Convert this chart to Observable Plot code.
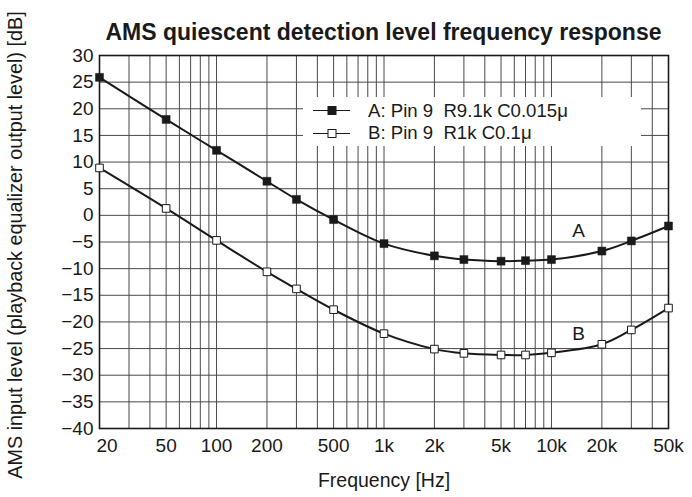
<!DOCTYPE html>
<html><head><meta charset="utf-8">
<script src="https://cdn.jsdelivr.net/npm/d3@7"></script>
<script src="https://cdn.jsdelivr.net/npm/@observablehq/plot@0.6"></script>
<style>
body{margin:0;background:#fff;}
#wrap{position:relative;width:692px;height:497px;font-family:"Liberation Sans",Arial,sans-serif;color:#1a1a1a;}
#title{position:absolute;left:99px;width:569px;top:21px;text-align:center;font-weight:bold;font-size:23px;line-height:23px;white-space:nowrap;}
#legend{position:absolute;left:303px;top:97px;width:338px;height:49px;background:#fff;}
.row{position:absolute;left:0;height:25px;display:flex;align-items:center;font-size:18.6px;white-space:pre;}
.row svg{display:block;}
</style>
</head><body>
<div id="wrap">
  <div id="chart"></div>
  <div id="title"></div>
  <div id="legend"></div>
</div>
<script>
// ---- data ----
const freqs = [20, 50, 100, 200, 300, 500, 1000, 2000, 3000, 5000, 7000, 10000, 20000, 30000, 50000];
const seriesA = [25.9, 18.0, 12.2, 6.4, 3.0, -0.8, -5.3, -7.6, -8.3, -8.6, -8.5, -8.3, -6.7, -4.8, -2.0];
const seriesB = [8.9, 1.3, -4.7, -10.6, -13.8, -17.7, -22.2, -25.1, -25.9, -26.2, -26.2, -25.8, -24.2, -21.5, -17.4];
const seriesNames = ["A", "B"];
const legendLabels = ["A: Pin 9\u00a0\u00a0R9.1k C0.015\u03bc", "B: Pin 9\u00a0\u00a0R1k C0.1\u03bc"];
const xTicks = [20, 50, 100, 200, 500, 1000, 2000, 5000, 10000, 20000, 50000];
const xTickLabels = ["20", "50", "100", "200", "500", "1k", "2k", "5k", "10k", "20k", "50k"];
const xGrid = [20,30,40,50,60,70,80,90,100,200,300,400,500,600,700,800,900,1000,2000,3000,4000,5000,6000,7000,8000,9000,10000,20000,30000,40000,50000];
const yTicks = [-40, -35, -30, -25, -20, -15, -10, -5, 0, 5, 10, 15, 20, 25, 30];
const curveLabelText = ["A", "B"];
const curveLabelFreq = [14500, 14500];
const curveLabelLevel = [-2.9, -22.3];
const titleText = "AMS quiescent detection level frequency response";
const xLabel = "Frequency [Hz]";
const yLabel = "AMS input level (playback equalizer output level) [dB]";

// ---- build ----
const rows = [];
freqs.forEach((f, i) => {
  rows.push({s: "A", f, v: seriesA[i]});
  rows.push({s: "B", f, v: seriesB[i]});
});
const rowsA = rows.filter(d => d.s === "A");
const rowsB = rows.filter(d => d.s === "B");
const curveLabels = curveLabelText.map((t, i) => ({t, f: curveLabelFreq[i], v: curveLabelLevel[i]}));
const xTickRows = xTicks.map((t, i) => ({t, label: xTickLabels[i]}));
const ink = "#1a1a1a";

const chart = Plot.plot({
  width: 692,
  height: 497,
  marginTop: 55,
  marginBottom: 69,
  marginLeft: 99,
  marginRight: 24,
  style: {fontFamily: "'Liberation Sans', Arial, sans-serif", fontSize: "19px", color: ink, background: "white", overflow: "visible"},
  x: {type: "log", domain: [20, 50000], axis: null, label: null},
  y: {domain: [-40, 30], ticks: yTicks, tickSize: 0, tickPadding: 6, label: null},
  marks: [
    Plot.gridX(xGrid, {stroke: "#4a4a4a", strokeOpacity: 1, strokeWidth: 1}),
    Plot.gridY(yTicks, {stroke: "#4a4a4a", strokeOpacity: 1, strokeWidth: 1}),
    Plot.frame({stroke: ink, strokeWidth: 1.6}),
    Plot.text(xTickRows.slice(0, 1), {x: "t", text: "label", frameAnchor: "bottom", lineAnchor: "top", textAnchor: "start", dx: -3, dy: 10, fontSize: 19, fill: ink}),
    Plot.text(xTickRows.slice(1), {x: "t", text: "label", frameAnchor: "bottom", lineAnchor: "top", dy: 10, fontSize: 19, fill: ink}),
    Plot.line(rows, {x: "f", y: "v", z: "s", curve: "catmull-rom", stroke: ink, strokeWidth: 2}),
    Plot.dot(rowsA, {x: "f", y: "v", symbol: "square", r: 4.5, fill: ink, stroke: ink, strokeWidth: 0.5}),
    Plot.dot(rowsB, {x: "f", y: "v", symbol: "square", r: 4.3, fill: "white", stroke: ink, strokeWidth: 1}),
    Plot.text(curveLabels, {x: "f", y: "v", text: "t", fontSize: 19, fill: ink}),
    Plot.text([yLabel], {text: d => d, frameAnchor: "left", textAnchor: "middle", rotate: -90, dx: -84, dy: 3, lineAnchor: "middle", fontSize: 19.8, fill: ink}),
    Plot.text([xLabel], {text: d => d, frameAnchor: "bottom", textAnchor: "middle", dy: 52, lineAnchor: "middle", fontSize: 19.5, fill: ink})
  ]
});
document.getElementById("chart").appendChild(chart);
document.getElementById("title").textContent = titleText;

// legend
const legend = d3.select("#legend");
seriesNames.forEach((name, i) => {
  const row = legend.append("div").attr("class", "row").style("top", (1.2 + i * 22.6) + "px");
  const svg = row.append("svg").attr("width", 60).attr("height", 25);
  svg.append("line").attr("x1", 10).attr("x2", 47).attr("y1", 12.5).attr("y2", 12.5).attr("stroke", ink).attr("stroke-width", 1);
  svg.append("rect").attr("x", 25).attr("y", 8.5).attr("width", 8).attr("height", 8)
    .attr("fill", name === "A" ? ink : "white").attr("stroke", ink).attr("stroke-width", 1);
  row.append("span").style("margin-left", "5px").text(legendLabels[i]);
});
</script>
</body></html>
